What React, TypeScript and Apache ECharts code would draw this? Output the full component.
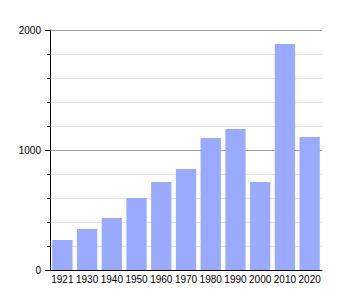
import React, { useEffect, useRef } from "react";
import * as echarts from "echarts";

const years = ["1921", "1930", "1940", "1950", "1960", "1970", "1980", "1990", "2000", "2010", "2020"];
const population = [250, 342, 433, 600, 733, 842, 1100, 1175, 733, 1883, 1108];

export default function App() {
  const ref = useRef<HTMLDivElement>(null);
  useEffect(() => {
    if (!ref.current) return;
    const chart = echarts.init(ref.current, null, { renderer: "svg" });
    chart.setOption({
      animation: false,
      grid: { left: 50, right: 28, top: 30, bottom: 30, containLabel: false },
      xAxis: {
        type: "category",
        data: years,
        axisLine: { show: true, lineStyle: { color: "#000", width: 1 } },
        axisTick: { show: false },
        axisLabel: { color: "#000", fontFamily: "Liberation Sans", fontSize: 10, margin: 4, interval: 0 },
        splitLine: { show: false },
      },
      yAxis: {
        type: "value",
        min: 0,
        max: 2000,
        interval: 1000,
        axisLine: { show: true, lineStyle: { color: "#000", width: 1 } },
        axisTick: { show: true, length: 5, lineStyle: { color: "#000" } },
        minorTick: { show: true, splitNumber: 5, length: 3, lineStyle: { color: "#000" } },
        axisLabel: {
          color: "#000",
          fontFamily: "Liberation Sans",
          fontSize: 10,
          margin: 9,
          formatter: (v: number) => String(v),
        },
        splitLine: { show: true, lineStyle: { color: "#a0a0a0", width: 1 } },
        minorSplitLine: { show: true, lineStyle: { color: "#e4e4e4", width: 1 } },
      },
      series: [
        {
          type: "bar",
          data: population,
          barCategoryGap: "18%",
          itemStyle: { color: "#99aaff" },
        },
      ],
    });
    return () => chart.dispose();
  }, []);
  return <div ref={ref} style={{ width: 350, height: 300, position: "absolute", left: 0, top: 0 }} />;
}
